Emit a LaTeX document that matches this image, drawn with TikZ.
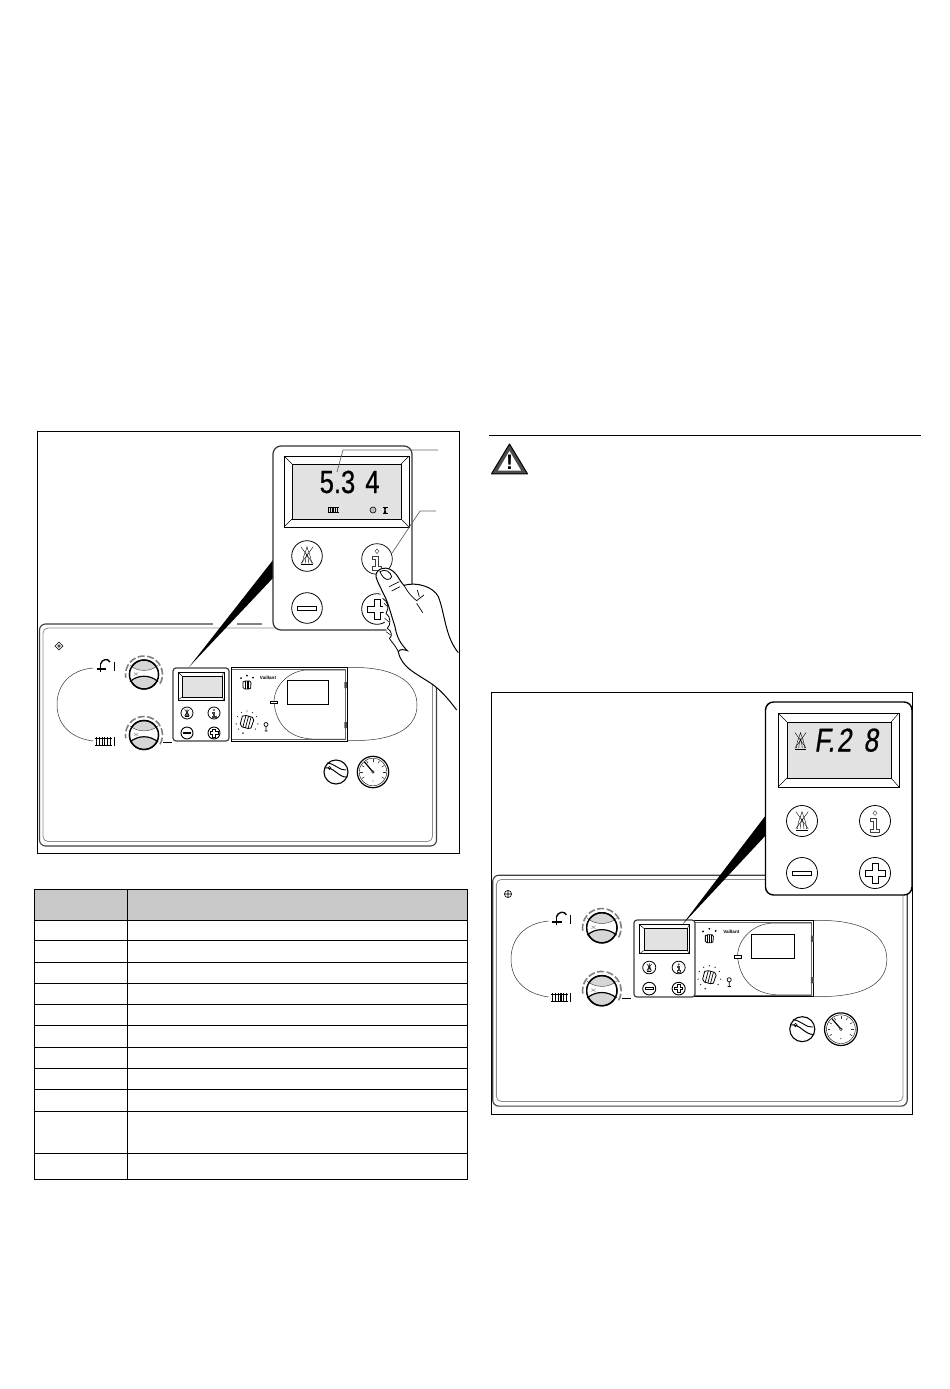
\documentclass[tikz,border=0pt]{standalone}
\usepackage{fontspec}
\setmainfont{Liberation Sans}
\newfontfamily\segfont[FakeStretch=0.8,FakeBold=0.5]{Liberation Sans}
\newfontfamily\segslant[FakeStretch=0.8,FakeSlant=0.15,FakeBold=0.5]{Liberation Sans}
\definecolor{lcd}{HTML}{E2E2E2}
\definecolor{thgrey}{HTML}{C8C8C8}
\definecolor{knobgrey}{HTML}{D6D6D6}
\tikzset{
 frameline/.style={draw=black,line width=.9pt},
 tableline/.style={draw=black,line width=.8pt},
 thin line/.style={draw=black!80,line width=.5pt},
 leader/.style={draw=black!60,line width=.7pt},
 btnburner/.pic={
  \draw[line width=.4pt] (-.4,-.6)--(.4,.5) (.4,-.6)--(-.4,.5);
  \draw[line width=.4pt] (-.28,.5) .. controls (-.28,0) and (-.1,-.2) .. (0,-.6) .. controls (.1,-.2) and (.28,0) .. (.28,.5);
  \draw[line width=.4pt] (-.12,.5) .. controls (-.12,.1) and (0,0) .. (0,-.15) .. controls (0,0) and (.12,.1) .. (.12,.5);
  \draw[line width=.9pt] (-.36,.58)--(.36,.58);
 },
 btninfo/.pic={
  \draw[line width=.45pt,draw=black!75,fill=white] (-.3,-.2)--(.1,-.2)--(.1,.5)--(.3,.5)--(.3,.72)--(-.3,.72)--(-.3,.5)--(-.1,.5)--(-.1,0)--(-.3,0)--cycle;
  \draw[line width=.45pt,draw=black!75] (0,-.66)--(.13,-.5)--(0,-.36)--(-.13,-.5)--cycle;
 },
 btnminus/.pic={
  \draw[line width=.7pt,fill=white] (-.62,-.13) rectangle (.62,.13);
 },
 btnplus/.pic={
  \draw[line width=.7pt,fill=white] (-.65,-.2)--(-.2,-.2)--(-.2,-.65)--(.2,-.65)--(.2,-.2)--(.65,-.2)--(.65,.2)--(.2,.2)--(.2,.65)--(-.2,.65)--(-.2,.2)--(-.65,.2)--cycle;
 },
 miniknob/.pic={
  \draw[line width=.8pt,fill=white] (-1,-.75)--(-.45,-1)--(.65,-1)--(1,-.6)--(.9,.8)--(.45,1)--(-.6,1)--(-1,.6)--cycle;
  \draw[line width=.7pt] (-.45,-.95)--(-.45,.95) (0,-1)--(0,1) (.45,-.95)--(.45,.95);
 },
 radiatoricon/.pic={
  \foreach \q in {-.85,-.51,-.17,.17,.51,.85} \draw[line width=1.1pt] (\q,-.55)--(\q,.55);
  \draw[line width=.7pt] (-1,-.42)--(1,-.42) (-1,.42)--(1,.42);
 },
}
\newcommand{\knob}[2]{%
 \draw[line width=1.3pt,fill=knobgrey] (#1,#2) circle (14.5);
 \begin{scope}[shift={(#1,#2)}]
  \fill[white] (-14,-9) .. controls (-6,-2.5) and (6,-2.5) .. (14,-9) -- (14,7) .. controls (6,0) and (-6,0) .. (-14,7) -- cycle;
  \draw[line width=.5pt,black!70] (-14,-9) .. controls (-6,-2.5) and (6,-2.5) .. (14,-9);
  \draw[line width=1.2pt] (-14,7) .. controls (-6,0) and (6,0) .. (14,7);
  \draw[line width=.4pt,black!50] (-10,-2) -- (-6,1) (-10,1) -- (-6,-2);
  \draw[line width=1.4pt] (0,0) circle (14.5);
  \draw[black!50,line width=1.6pt,dash pattern=on 7pt off 2.5pt] (30:18.5) arc[start angle=30,end angle=-190,radius=18.5];
 \end{scope}}
\newcommand{\btnrow}[6]{%
 \draw[line width=#6,fill=white] (#1,#2) circle (#3);
 \pic[scale=#3] at (#1,#2) {#4};}
\newcommand{\smallbox}{%
 \draw[line width=1.2pt,draw=black!75,fill=white,rounded corners=3pt] (173,668) rectangle (229,741);
 \draw[line width=.9pt,fill=white] (178,672) rectangle (224,700);
 \draw[line width=.5pt,fill=lcd] (182,676) rectangle (222,697);
 \draw[line width=.4pt] (178,672)--(182,676) (224,672)--(222,676) (178,700)--(182,697) (224,700)--(222,697);
 \btnrow{187}{713}{6}{btnburner}{}{.8pt}
 \btnrow{214}{713}{6}{btninfo}{}{.8pt}
 \btnrow{187}{733}{6}{btnminus}{}{.9pt}
 \btnrow{214}{733}{6}{btnplus}{}{.9pt}}
\newcommand{\ctrlpanel}{%
 \draw[draw=black!75,line width=1.1pt,rounded corners=6pt] (39.5,624) rectangle (436.5,846);
 \draw[draw=black!45,line width=.8pt,rounded corners=5pt] (43,628) rectangle (432.5,841.5);
 % track
 \draw[thin line] (93,668) .. controls (70,670) and (57,685) .. (57,704.5) .. controls (57,724) and (70,738) .. (93,741);
 \draw[thin line] (347,667.5) .. controls (395,666) and (417,682) .. (417,705) .. controls (417,728) and (395,742) .. (347,740.5);
 % tap
 \draw[line width=1.8pt] (100.5,663)--(100.5,672) (96.5,669)--(105.5,669);
 \draw[line width=1.4pt] (100.5,664) .. controls (102,659) and (108,658) .. (110,662);
 \draw[line width=.7pt] (114,662)--(114,671);
 % radiator
 \pic[scale=8.5] at (103.5,741.5) {radiatoricon};
 \draw[line width=.7pt] (114,737)--(114,746);
 \knob{144}{674.5}
 \knob{144}{735}
 \draw[line width=.7pt] (163,742)--(172,742);
 % door box
 \draw[line width=.9pt,fill=white] (231,667) rectangle (347,741);
 \draw[line width=.5pt,draw=black!60] (232,669.5) -- (344.8,669.5) -- (344.8,739) -- (232,739);
 \draw[thin line] (345,670) -- (308,670) .. controls (290,670) and (274,685) .. (274,702) .. controls (276,725) and (290,738) .. (312,739) -- (345,739);
 \draw[line width=.8pt] (287,680.5) rectangle (328,704);
 \draw[line width=.6pt,fill=white] (270.5,701) rectangle (277.5,703.5);
 \fill[black!70] (344.3,682) rectangle (347,688) (344.3,722) rectangle (347,728);
 \pic[scale=4] at (247,685) {miniknob};
 \pic[scale=6,rotate=-15] at (247,722) {miniknob};
 \foreach \a/\b in {241,678/241,678} {}
 \fill (241,678) circle (1) (247,675.5) circle (1) (253,677.5) circle (1);
 \foreach \a in {-60,-30,0,30,60,100,-100,130,-130} \fill[black!80] (247,722) ++(\a-90:11) circle (.7);
 \fill[black!70] (243,733) circle (1);
 \node[font=\bfseries\fontsize{4.6}{5}\selectfont,inner sep=0pt] (vaillant) at (268,678) {Vaillant};
 \draw[line width=.7pt] (266,724.5) circle (2) (266,726.5)--(266,731) (264.5,731)--(267.5,731);
 % dial
 \draw[line width=1.1pt,fill=white] (336,772) circle (12);
 \draw[line width=1pt] (325,768) .. controls (333,766) and (339,778) .. (347,777);
 \draw[line width=.9pt] (327,763) .. controls (334,763) and (340,771) .. (346,770);
 \draw[line width=.5pt] (329.5,768) circle (1.6);
 % gauge
 \draw[line width=1.2pt,fill=white] (373,772) circle (15.7);
 \draw[line width=.4pt] (373,772) circle (13.8);
 \foreach \a in {-210,-180,-150,-120,-90,-60,-30,0,30} \draw[line width=.6pt,black!80] (373,772) ++(\a:10)--++(\a:2.6);
 \draw[line width=1.2pt] (373,772)--(364.5,762);
 \draw[line width=.5pt,fill=white] (373,772) circle (1.3);
 \fill[black!60] (373,781) circle (.7);}
\begin{document}
\begin{tikzpicture}[x=1pt,y=-1pt]
\useasboundingbox[fill=white] (0,0) rectangle (950,1389);
%% left frame
\draw[frameline] (37.5,431.5) rectangle (459.5,853.3);
\ctrlpanel
\fill[white] (213,621) rectangle (237,627);
\fill[white] (262,621) rectangle (275,627);
\smallbox
\fill[black] (189,667)--(273,560)--(273,578)--cycle;
\draw[line width=1.2pt,draw=black!80,fill=white,rounded corners=8pt] (273,446) rectangle (412,630);
\draw[line width=.9pt,fill=white] (284,456) rectangle (409,527);
\draw[line width=.5pt,fill=lcd] (292,464) rectangle (401,519);
\draw[line width=.5pt] (284,456)--(292,464) (409,456)--(401,464) (284,527)--(292,519) (409,527)--(401,519);
\node[font=\segfont\fontsize{32}{32}\selectfont,inner sep=0pt,anchor=base west] (reading) at (319.5,493) {5.3\hspace{10pt}4};
\pic[scale=5.5] at (333,510) {radiatoricon};
\draw[line width=.6pt,fill=black!25] (373,510) circle (3);
\draw[line width=.8pt] (382.5,507)--(387.5,507) (382.5,513.5)--(387.5,513.5);
\fill (383.5,507)--(386.5,507)--(385.5,510)--(386.5,513.5)--(383.5,513.5)--(384.5,510)--cycle;
\btnrow{307}{556}{15.3}{btnburner}{}{.8pt}
\btnrow{377}{559}{15.3}{btninfo}{}{.7pt}
\btnrow{307}{608}{15.3}{btnminus}{}{.8pt}
\btnrow{377}{609}{15.3}{btnplus}{}{.8pt}
\coordinate (leadAend) at (438,450);
\coordinate (leadAbend) at (343,450);
\coordinate (leadAtip) at (337,472);
\coordinate (leadBend) at (436,511);
\coordinate (leadBbend) at (420,511);
\coordinate (leadBtip) at (392,553);
\draw[leader] (leadAtip)--(leadAbend)--(leadAend);
\draw[leader] (leadBtip)--(leadBbend)--(leadBend);
%% hand
\begin{scope}[shift={(260,430)},x=.3333pt,y=-.3333pt]
 \fill[white] (348,430) .. controls (355,410) and (385,405) .. (410,435) -- (432,465) .. controls (470,455) and (520,470) .. (535,500) .. controls (555,550) and (555,620) .. (595,668) -- (596,845) -- (590,840) .. controls (560,800) and (540,780) .. (520,765) .. controls (470,730) and (425,715) .. (415,665) -- (385,625) -- (375,580) -- (368,520) -- cycle;
 \draw[line width=1pt] (348,440) .. controls (345,415) and (385,400) .. (410,435) .. controls (420,450) and (425,460) .. (432,466) .. controls (470,455) and (520,470) .. (535,500) .. controls (555,550) and (555,620) .. (595,668);
 \draw[line width=1pt] (590,840) .. controls (560,800) and (540,780) .. (520,765) .. controls (470,730) and (425,715) .. (415,665) .. controls (420,655) and (435,660) .. (442,662) .. controls (420,640) and (410,620) .. (405,590) .. controls (395,560) and (385,520) .. (375,500) .. controls (360,470) and (350,450) .. (348,440);
 \draw[line width=.8pt,fill=white] (360,425) .. controls (375,415) and (392,425) .. (395,440) .. controls (392,452) and (372,455) .. (360,425) -- cycle;
 \draw[line width=.7pt] (388,470)--(418,455) (395,483)--(420,470) (432,466) .. controls (445,490) and (460,505) .. (470,512) (470,512)--(492,495) (470,520) -- (488,548) (478,500)--(472,480);
 % finger scallops
 \draw[line width=.8pt] (368,505) .. controls (385,515) and (388,535) .. (378,550) .. controls (393,560) and (393,585) .. (382,595) .. controls (396,603) and (398,620) .. (388,625);
 \draw[line width=.5pt] (372,520)--(382,530) (374,565)--(386,575) (378,605)--(392,615);
 \draw[line width=.8pt] (388,625) .. controls (398,640) and (405,645) .. (415,665);
\end{scope}
%% table
\fill[thgrey] (34.3,889.3) rectangle (467,920.3);
\draw[tableline] (34.3,889.3) rectangle (467,1179);
\draw[tableline] (127.3,889.3)--(127.3,1179);
\foreach \r in {920.3,940.3,962,983.3,1004.3,1025.3,1047.3,1068.3,1089.3,1111,1153.3} \draw[tableline] (34.3,\r)--(467,\r);
%% rule and warning
\draw[line width=1pt] (489,435.3)--(921,435.3);
\draw[line width=1pt,draw=black,fill=black!70,line join=round] (509.5,444)--(527.5,473.8)--(491.5,473.8)--cycle;
\fill[white] (509.5,451)--(521,470.5)--(498,470.5)--cycle;
\node[font=\bfseries\fontsize{21}{21}\selectfont,inner sep=0pt,anchor=base] (warnmark) at (509.5,469.5) {!};
%% right frame
\draw[frameline] (491.5,692.5) rectangle (912.5,1114.3);
\begin{scope}[shift={(451.5,226.3)},xscale=1.044,yscale=1.04]
\ctrlpanel
\end{scope}
\begin{scope}[shift={(445.6,215.3)},xscale=1.089,yscale=1.055]
\smallbox
\end{scope}
\draw[line width=.6pt] (508,894) circle (3.6) (504.4,894)--(511.6,894) (508,890.4)--(508,897.6);
\fill[black] (682,925)--(766,815)--(766,835)--cycle;
\draw[line width=1.4pt,fill=white,rounded corners=8pt] (765.5,702) rectangle (912,895);
\draw[line width=.9pt,fill=white] (778,713) rectangle (899,787);
\draw[line width=.5pt,fill=lcd] (787,722) rectangle (891,778);
\draw[line width=.5pt] (778,713)--(787,722) (899,713)--(891,722) (778,787)--(787,778) (899,787)--(891,778);
\pic[scale=14] at (800.5,741) {btnburner};
\node[font=\segslant\fontsize{33}{33}\selectfont,inner sep=0pt,anchor=base west] (fault) at (814,751.5) {F.\hspace{2pt}2\hspace{12pt}8};
\btnrow{802}{821}{15.5}{btnburner}{}{.8pt}
\btnrow{875}{821}{15.5}{btninfo}{}{.8pt}
\btnrow{802}{873}{15.5}{btnminus}{}{.8pt}
\btnrow{875}{873}{15.5}{btnplus}{}{.8pt}
%% left panel icon
\draw[line width=.6pt] (59,642)--(63,646)--(59,650)--(55,646)--cycle (57,646)--(61,646) (59,644)--(59,648);
\end{tikzpicture}
\end{document}
